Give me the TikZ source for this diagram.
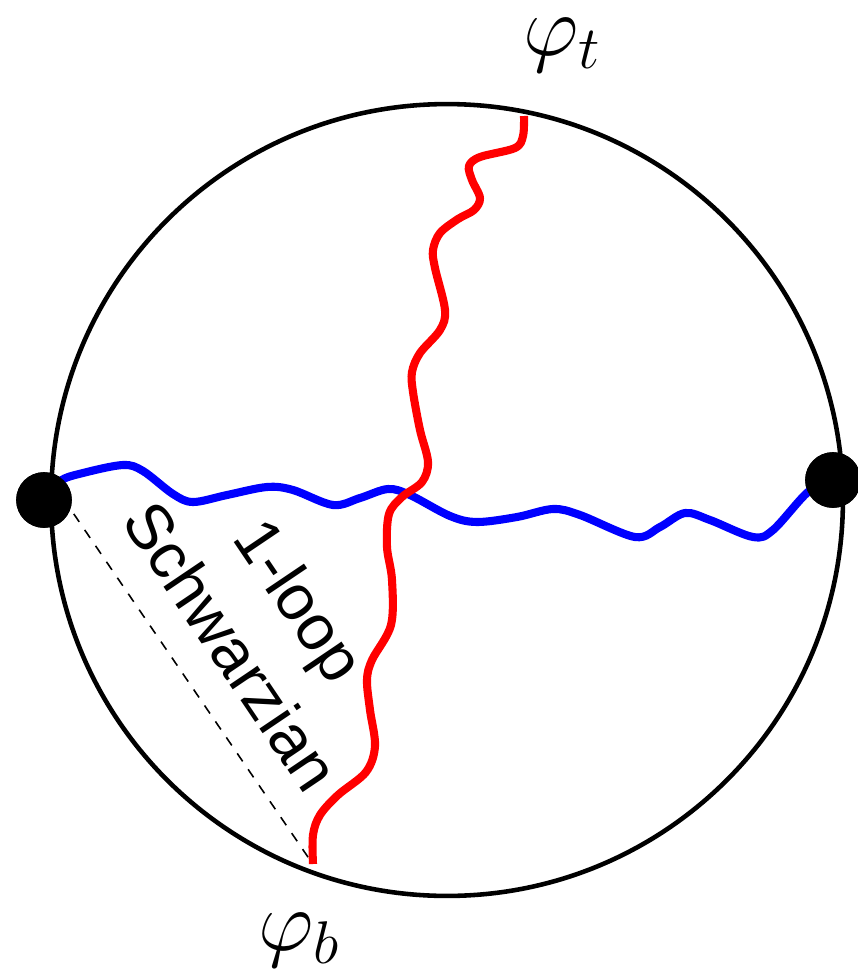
\RequirePackage{fix-cm}
\documentclass[tikz,border=0pt]{standalone}
\usepackage{fontspec}
\newfontfamily\sflabel{Liberation Sans}

\begin{document}
\begin{tikzpicture}[
x=0.02cm, y=-0.02cm,
dot/.style={circle, fill=black, minimum size=31.7pt, inner sep=0pt},
wiggle/.style={line width=4.6pt, line join=round, smooth, tension=0.55},
phi/.style={font=\fontsize{49}{55}\selectfont}
]
\useasboundingbox (0,0) rectangle (858,974);

% boundary circle
\coordinate (c) at (447,500);
\draw[line width=2.6pt] (c) circle[radius=7.92cm];

% points on the boundary
\node[dot] (dl) at (44,500) {};
\node[dot] (dr) at (833,480) {};
\coordinate (pt) at (524,116);
\coordinate (pb) at (313,864);
\coordinate (ds) at (52,482);
\coordinate (de) at (310,860);

% labels
\node[phi] (lt) at (562,45) {$\varphi_t$};
\node[phi] (lb) at (299,940) {$\varphi_b$};
\node[font=\sflabel\fontsize{36.5}{47}\selectfont, align=center, rotate=-56]
  (loop) at (266,623) {1-loop\\Schwarzian};

% dashed chord
\draw[line width=0.9pt, dash pattern=on 5.5pt off 5.5pt] (ds) -- (de);

% wiggly lines
\draw[wiggle, blue] plot coordinates {(dl) (60,481) (83,473) (123,465)
  (143,471) (173,494) (193,502) (227,495) (267,487) (293,490) (333,505)
  (360,498) (388,489) (410,495) (450,516) (477,522) (517,517) (553,509)
  (580,515) (635,537) (660,527) (685,513) (710,520) (753,537) (773,530)
  (808,492) (dr)};
\draw[wiggle, red] plot coordinates {(pt) (523,136) (515,148) (480,157)
  (469,166) (472,180) (480,198) (474,210) (458,219) (440,233) (433,250)
  (435,268) (445,310) (440,330) (420,353) (412,372) (413,392) (420,430)
  (428,462) (422,482) (402,497) (389,514) (387,547) (392,580) (391,625)
  (372,660) (367,680) (370,710) (375,746) (366,772) (338,795) (320,815)
  (313,835) (pb)};

% dots on top
\node[dot] at (dl) {};
\node[dot] at (dr) {};

\end{tikzpicture}
\end{document}
